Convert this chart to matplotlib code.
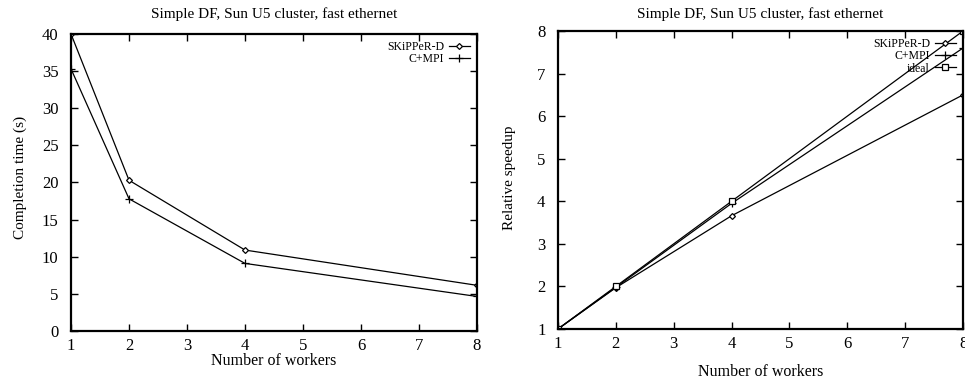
import matplotlib
matplotlib.use("Agg")
import matplotlib.pyplot as plt

plt.rcParams["font.family"] = ["Liberation Serif", "DejaVu Serif"]

workers = [1, 2, 4, 8]
time_skipper = [40.0, 20.3, 10.9, 6.15]
time_cmpi = [35.3, 17.8, 9.1, 4.65]
speed_skipper = [1.0, 1.97, 3.66, 6.5]
speed_cmpi = [1.0, 1.98, 3.95, 7.6]
speed_ideal = [1, 2, 4, 8]

title = "Simple DF, Sun U5 cluster, fast ethernet"

W, H = 965, 385
fig = plt.figure(figsize=(W / 100, H / 100), dpi=100)
ax1 = fig.add_axes([0.0736, 0.1403, 0.4207, 0.7714])
ax2 = fig.add_axes([0.5782, 0.1455, 0.4198, 0.774])

line_kw = dict(color="black", linewidth=0.9)

ax1.plot(workers, time_skipper, marker="D", markersize=3, markerfacecolor="white",
         markeredgewidth=0.9, label="SKiPPeR-D", **line_kw)
ax1.plot(workers, time_cmpi, marker="+", markersize=6, markeredgewidth=0.9,
         label="C+MPI", **line_kw)
ax1.set_xlim(1, 8)
ax1.set_ylim(0, 40)
ax1.set_yticks(range(0, 41, 5))

ax2.plot(workers, speed_skipper, marker="D", markersize=3, markerfacecolor="white",
         markeredgewidth=0.9, label="SKiPPeR-D", **line_kw)
ax2.plot(workers, speed_cmpi, marker="+", markersize=6, markeredgewidth=0.9,
         label="C+MPI", **line_kw)
ax2.plot(workers, speed_ideal, marker="s", markersize=4, markerfacecolor="white",
         markeredgewidth=0.9, label="ideal", **line_kw)
ax2.set_xlim(1, 8)
ax2.set_ylim(1, 8)
ax2.set_yticks(range(1, 9))

for ax in (ax1, ax2):
    ax.set_xticks(range(1, 9))
    ax.tick_params(axis="both", direction="in", top=True, right=True, length=5,
                   width=1, labelsize=12)
    ax.tick_params(axis="x", pad=5)
    ax.tick_params(axis="y", pad=9)
    for s in ax.spines.values():
        s.set_linewidth(1.6)
    ax.legend(loc="upper right", frameon=False, markerfirst=False, fontsize=8.5,
              handlelength=1.8, handletextpad=0.4, labelspacing=0.02,
              borderpad=0.2, borderaxespad=0.4)

# titles and axis labels placed to match the original layout
fig.text((71 + 477) / 2 / W, 1 - 14 / H, title, ha="center", va="center", fontsize=11)
fig.text((558 + 963) / 2 / W, 1 - 14 / H, title, ha="center", va="center", fontsize=11)
fig.text((71 + 477) / 2 / W, 1 - 361 / H, "Number of workers", ha="center", va="center", fontsize=11.5)
fig.text((558 + 963) / 2 / W, 1 - 372 / H, "Number of workers", ha="center", va="center", fontsize=11.5)
fig.text(20 / W, 1 - 177 / H, "Completion time (s)", ha="center", va="center",
         rotation=90, fontsize=11)
fig.text(510 / W, 1 - 178 / H, "Relative speedup", ha="center", va="center",
         rotation=90, fontsize=11)

fig.savefig("out.png", dpi=100)
